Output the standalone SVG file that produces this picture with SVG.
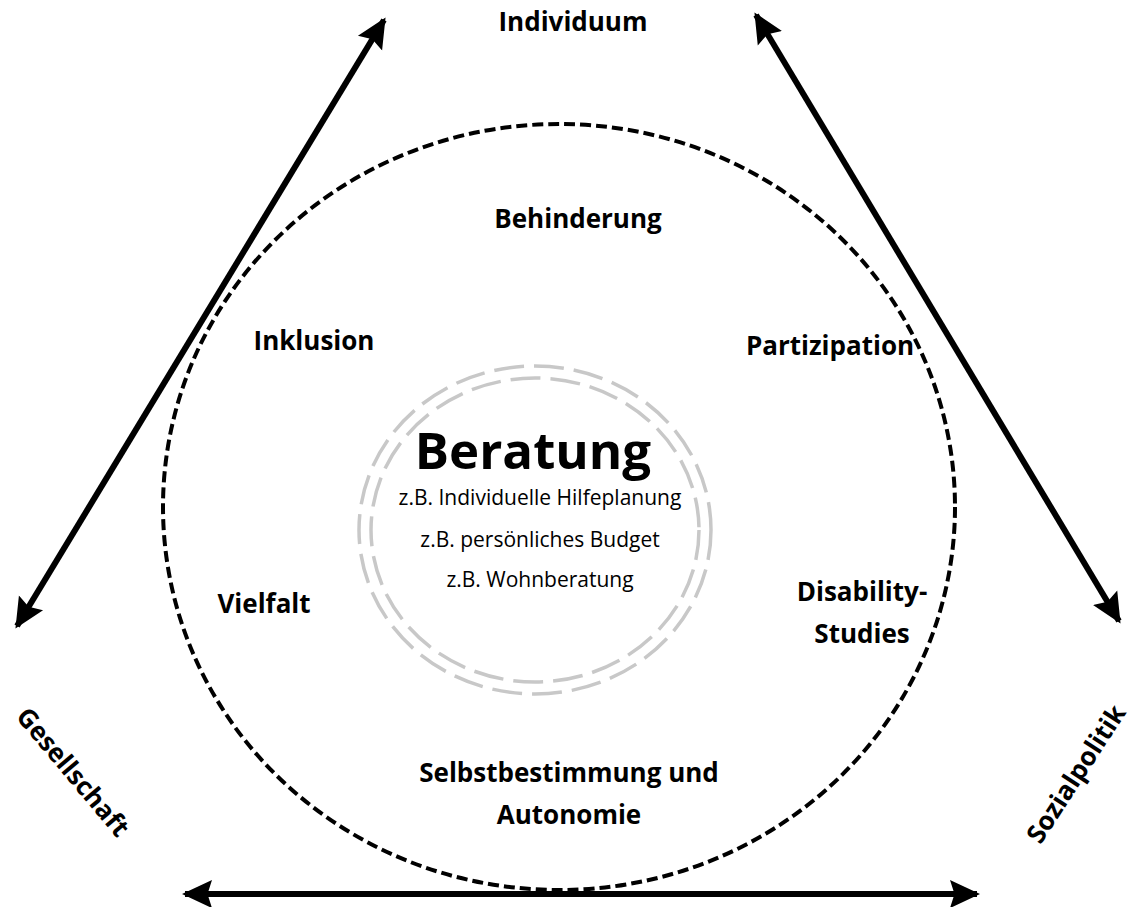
<svg xmlns="http://www.w3.org/2000/svg" width="1134" height="907" viewBox="0 0 1134 907">
<style>
text{font-family:"Open Sans","Noto Sans","Liberation Sans",sans-serif;fill:#000}
.b{font-weight:bold;font-size:26px}
.r{font-size:21px}
.ax{stroke:#000;stroke-width:6;fill:none}
</style>
<defs>
<marker id="ah" viewBox="0 0 10 10" refX="9" refY="5" markerWidth="5" markerHeight="5" orient="auto-start-reverse" markerUnits="strokeWidth">
<path d="M0,0.3 L10,5 L0,9.7 L1.5,5 Z" fill="#000"/>
</marker>
</defs>
<rect width="1134" height="907" fill="#fff"/>
<g id="connectors">
<line class="ax" x1="17" y1="626" x2="384" y2="20" marker-start="url(#ah)" marker-end="url(#ah)"/>
<line class="ax" x1="756" y1="15" x2="1119" y2="621" marker-start="url(#ah)" marker-end="url(#ah)"/>
<line class="ax" x1="185" y1="894" x2="977" y2="894" marker-start="url(#ah)" marker-end="url(#ah)"/>
</g>
<g id="outer-circle">
<ellipse cx="559" cy="507" rx="396" ry="383" fill="none" stroke="#000" stroke-width="4" stroke-dasharray="11,5"/>
</g>
<g id="inner-circle" fill="none" stroke="#c8c8c8" stroke-width="3.5" stroke-dasharray="30,10">
<ellipse cx="535" cy="530" rx="176" ry="164"/>
<ellipse cx="535" cy="530" rx="164" ry="152"/>
</g>
<g id="individuum"><text class="b" x="573" y="31" text-anchor="middle">Individuum</text></g>
<g id="behinderung"><text class="b" x="578" y="228" text-anchor="middle">Behinderung</text></g>
<g id="inklusion"><text class="b" x="314" y="350" text-anchor="middle">Inklusion</text></g>
<g id="partizipation"><text class="b" x="830" y="355" text-anchor="middle">Partizipation</text></g>
<g id="beratung">
<text x="533" y="469" text-anchor="middle" font-weight="bold" font-size="51">Beratung</text>
<text class="r" x="540" y="505" text-anchor="middle">z.B. Individuelle Hilfeplanung</text>
<text class="r" x="540" y="547" text-anchor="middle">z.B. persönliches Budget</text>
<text class="r" x="540" y="587" text-anchor="middle">z.B. Wohnberatung</text>
</g>
<g id="vielfalt"><text class="b" x="264" y="613" text-anchor="middle">Vielfalt</text></g>
<g id="disability"><text class="b" x="862" y="601" text-anchor="middle">Disability-</text><text class="b" x="862" y="643" text-anchor="middle">Studies</text></g>
<g id="selbstbestimmung"><text class="b" x="569" y="782" text-anchor="middle">Selbstbestimmung und</text><text class="b" x="569" y="824" text-anchor="middle">Autonomie</text></g>
<g id="gesellschaft"><text class="b" transform="translate(73,772) rotate(50)" x="0" y="9" text-anchor="middle">Gesellschaft</text></g>
<g id="sozialpolitik"><text class="b" transform="translate(1076,774) rotate(-57)" x="0" y="9" text-anchor="middle" font-size="25">Sozialpolitik</text></g>
</svg>
